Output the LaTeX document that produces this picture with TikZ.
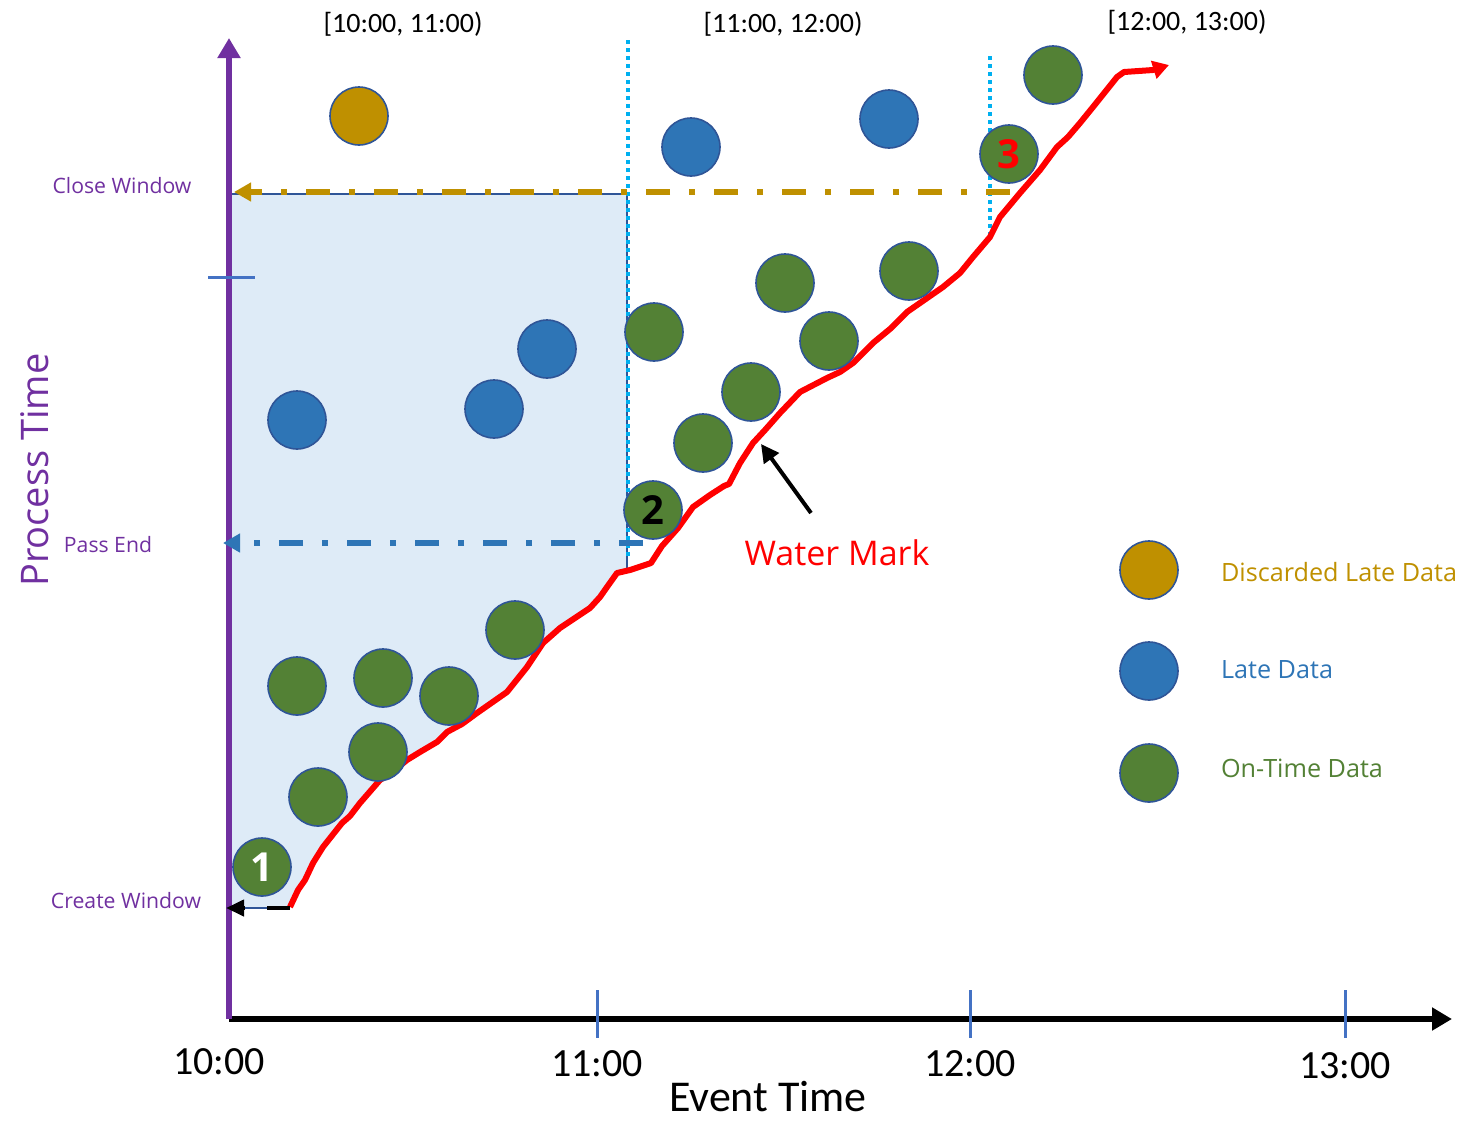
\documentclass[tikz,border=0pt]{standalone}
\usepackage{fontspec}
\setmainfont{Open Sans}
\newfontfamily\calibri{Carlito}
\usetikzlibrary{arrows.meta}

\definecolor{axispurple}{HTML}{7030A0}
\definecolor{gold}{HTML}{BF9000}
\definecolor{lateblue}{HTML}{2E75B6}
\definecolor{okgreen}{HTML}{538135}
\definecolor{rim}{HTML}{2F5597}
\definecolor{tickblue}{HTML}{4472C4}
\definecolor{skyblue}{HTML}{00B0F0}
\definecolor{pane}{HTML}{DEEBF7}

\tikzset{
	datum/.style={circle, draw=rim, line width=0.8pt, minimum size=29pt, inner sep=0pt},
	ontime/.style={datum, fill=okgreen},
	late/.style={datum, fill=lateblue},
	discarded/.style={datum, fill=gold},
	numlbl/.style={font=\fontsize{20}{20}\selectfont\bfseries},
	ylbl/.style={text=axispurple, font=\fontsize{10.6}{12}\selectfont},
	ticklbl/.style={font=\calibri\fontsize{20}{22}\selectfont},
	winlbl/.style={font=\calibri\fontsize{14}{16}\selectfont},
	legendlbl/.style={anchor=west, font=\fontsize{12.6}{14}\selectfont},
	tickmark/.style={draw=tickblue, line width=1.5pt},
	dashdot/.style={line width=2.8pt, dash pattern=on 12pt off 9.5pt on 3pt off 9.5pt},
	winedge/.style={draw=skyblue, line width=2pt, dash pattern=on 2pt off 2pt},
	watermark/.style={draw=red, line width=3pt, line join=round}
}

\begin{document}
\begin{tikzpicture}[x=0.5pt, y=-0.5pt]
	\useasboundingbox (0,0) rectangle (1479,1142);

	%window pane
	\fill[pane] (231,194) -- (627,194) -- (627,571) -- (617,573) -- (607,587) -- (590,608)
		-- (560,628) -- (543,643) -- (527,667) -- (507,692) -- (477,713) -- (447,732)
		-- (437,742) -- (420,752) -- (407,760) -- (380,780) -- (360,803) -- (342,823)
		-- (323,847) -- (313,863) -- (305,880) -- (298,890) -- (290,907) -- (231,907) -- cycle;
	\draw[rim, line width=0.75pt] (231,907) -- (231,194) -- (627,194) -- (627,571);
	\draw[rim, line width=0.75pt] (231,908) -- (290,908);

	%coordinates
	\coordinate (origin) at (229,1019);
	\coordinate (ytip) at (229,38);
	\coordinate (xtip) at (1452,1019);
	\coordinate (cw-from) at (1010,192);
	\coordinate (cw-to) at (234,192);
	\coordinate (pe-from) at (643,543);
	\coordinate (pe-to) at (223,543);
	\coordinate (cr-from) at (290,908);
	\coordinate (cr-to) at (226,908);

	%window edges
	\draw[winedge] (628,40) -- (628,556);
	\draw[winedge] (990,56) -- (990,234);

	%axes
	\draw[line width=3pt, -{Triangle[length=10pt, width=11pt]}] (origin) -- (xtip);
	\draw[axispurple, line width=3pt, -{Triangle[length=10pt, width=11pt]}] (origin) -- (ytip);
	\foreach \tx in {597,970,1345}
		\draw[tickmark] (\tx,990) -- (\tx,1038);
	\draw[tickmark] (208,277) -- (255,277);

	%watermark
	\draw[watermark, -{Triangle[length=8pt, width=9pt]}] plot coordinates {
		(290,907) (298,890) (305,880) (313,863) (323,847) (342,823) (350,816) (360,803) (380,780)
		(392,772) (407,760) (420,752) (437,742) (447,732) (462,724) (477,713) (507,692) (527,667)
		(543,643) (560,628) (590,608) (600,597) (607,587) (617,573) (630,570) (651,563) (662,546)
		(678,528) (693,507) (710,495) (724,486) (729,484) (740,463) (753,443) (765,430) (780,413)
		(800,392) (827,378) (840,372) (853,363) (873,343) (890,329) (907,312) (943,287) (960,273)
		(973,257) (990,237) (1000,217) (1020,193) (1040,170) (1057,147) (1068,137) (1080,123)
		(1093,107) (1117,77) (1124,72) (1153,70) (1169,65)};

	%trigger arrows
	\draw[gold, dashdot, -{Triangle[length=8.5pt, width=9pt]}] (cw-from) -- (cw-to);
	\draw[lateblue, dashdot, -{Triangle[length=8.5pt, width=9pt]}] (pe-from) -- (pe-to);
	\draw[line width=2pt, dash pattern=on 11.5pt off 11pt, -{Triangle[length=9pt, width=8pt]}] (cr-from) -- (cr-to);

	%on-time data
	\node[ontime, numlbl, text=white] (g1) at (262,867) {1};
	\node[ontime] (g2) at (318,797) {};
	\node[ontime] (g3) at (378,752) {};
	\node[ontime] (g4) at (297,686) {};
	\node[ontime] (g5) at (383,678) {};
	\node[ontime] (g6) at (449,696) {};
	\node[ontime] (g7) at (515,630) {};
	\node[ontime, numlbl, text=black] (g8) at (653,510) {2};
	\node[ontime] (g9) at (703,443) {};
	\node[ontime] (g10) at (751,392) {};
	\node[ontime] (g11) at (654,332) {};
	\node[ontime] (g12) at (785,283) {};
	\node[ontime] (g13) at (829,341) {};
	\node[ontime] (g14) at (909,271) {};
	\node[ontime, numlbl, text=red] (g15) at (1009,154) {3};
	\node[ontime] (g16) at (1053,75) {};

	%late data
	\node[late] (b1) at (297,420) {};
	\node[late] (b2) at (494,409) {};
	\node[late] (b3) at (547,349) {};
	\node[late] (b4) at (691,147) {};
	\node[late] (b5) at (889,119) {};
	\node[discarded] (d1) at (359,116) {};

	%watermark label
	\node[text=red, font=\fontsize{17}{19}\selectfont] (wmlbl) at (837,553) {Water Mark};
	\coordinate (wm-from) at (811,513);
	\coordinate (wm-to) at (761,444);
	\draw[line width=2pt, -{Triangle[length=9pt, width=9pt]}] (wm-from) -- (wm-to);

	%axis labels
	\node[ylbl] (closelbl) at (122,186) {Close Window};
	\node[ylbl] (passlbl) at (108,545) {Pass End};
	\node[ylbl] (createlbl) at (126,901) {Create Window};
	\node[rotate=90, text=axispurple, font=\fontsize{19}{21}\selectfont] (ylabel) at (35,470) {Process Time};
	\node[font=\calibri\fontsize{22}{24}\selectfont] (xlabel) at (768,1097) {Event Time};
	\node[ticklbl] (t10) at (219,1062) {10:00};
	\node[ticklbl] (t11) at (597,1064) {11:00};
	\node[ticklbl] (t12) at (970,1064) {12:00};
	\node[ticklbl] (t13) at (1345,1066) {13:00};
	\node[winlbl] (w1) at (403,24) {[10:00, 11:00)};
	\node[winlbl] (w2) at (783,24) {[11:00, 12:00)};
	\node[winlbl] (w3) at (1187,22) {[12:00, 13:00)};

	%legend
	\node[discarded] (k1) at (1149,570) {};
	\node[late] (k2) at (1149,671) {};
	\node[ontime] (k3) at (1149,773) {};
	\node[legendlbl, text=gold] (k1lbl) at (1214,572) {Discarded Late Data};
	\node[legendlbl, text=lateblue] (k2lbl) at (1214,670) {Late Data};
	\node[legendlbl, text=okgreen] (k3lbl) at (1214,768) {On-Time Data};
\end{tikzpicture}
\end{document}
